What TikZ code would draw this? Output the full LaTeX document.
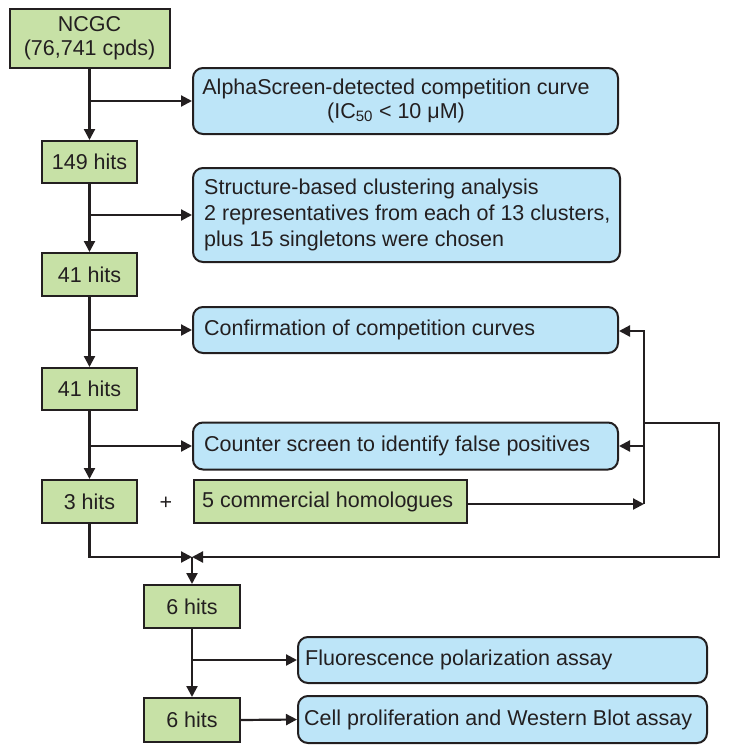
\documentclass[tikz,border=0pt]{standalone}
\usepackage{fontspec}
\setmainfont{Liberation Sans}
\usetikzlibrary{arrows.meta}
\definecolor{gfill}{RGB}{199,225,166}
\definecolor{bfill}{RGB}{189,229,248}
\definecolor{ink}{RGB}{35,31,32}
\begin{document}
\begin{tikzpicture}[x=1pt,y=-1pt,
  every node/.style={font=\fontsize{21.5}{24}\selectfont, text=ink},
  gbox/.style={draw=ink, fill=gfill, line width=2pt, inner sep=0pt, align=center},
  bbox/.style={draw=ink, fill=bfill, line width=2pt, rounded corners=10pt, inner sep=0pt},
  btext/.style={inner sep=0pt, align=left, anchor=west},
  ln/.style={draw=ink, line width=2.2pt},
  arr/.style={ln, -{Triangle[length=11pt,width=11pt]}}]
\useasboundingbox (0,0) rectangle (729,753);

% green boxes
\node[gbox, minimum width=160pt, minimum height=59pt] (ncgc) at (89.5,38.5) {NCGC\\(76,741 cpds)};
\node[gbox, minimum width=95pt, minimum height=42pt] (h149) at (89.5,162) {149 hits};
\node[gbox, minimum width=95pt, minimum height=43pt] (h41a) at (89.5,274.5) {41 hits};
\node[gbox, minimum width=95pt, minimum height=42pt] (h41b) at (89.5,389) {41 hits};
\node[gbox, minimum width=95pt, minimum height=43pt] (h3) at (89.5,501.5) {3 hits};
\node[gbox, minimum width=273pt, minimum height=43pt] (comm) at (330.5,501.5) {};
\node[btext] (commt) at ([xshift=9pt]comm.west) {5 commercial homologues};
\node[gbox, minimum width=96pt, minimum height=43pt] (h6a) at (192,606.5) {6 hits};
\node[gbox, minimum width=96pt, minimum height=44pt] (h6b) at (192,720) {6 hits};
\node (plus) at (166,503) {+};

% blue boxes
\node[bbox, minimum width=425pt, minimum height=66pt] (alpha) at (405.5,101) {};
\node[inner sep=0pt, align=center] (alphat) at (396,101)
  {AlphaScreen-detected competition curve\\(IC\textsubscript{50} < 10 μM)};
\node[bbox, minimum width=427pt, minimum height=94pt] (struct) at (406.5,215) {};
\node[btext, font=\fontsize{21.5}{26}\selectfont] (structt) at ([xshift=12pt]struct.west)
  {Structure-based clustering analysis\\2 representatives from each of 13 clusters,\\plus 15 singletons were chosen};
\node[bbox, minimum width=425pt, minimum height=46pt] (conf) at (405.5,330) {};
\node[btext] (conft) at ([xshift=12pt]conf.west) {Confirmation of competition curves};
\node[bbox, minimum width=425pt, minimum height=47pt] (counter) at (405.5,446) {};
\node[btext] (countert) at ([xshift=12pt]counter.west) {Counter screen to identify false positives};
\node[bbox, minimum width=409pt, minimum height=46pt] (fluo) at (502.5,660) {};
\node[btext] (fluot) at ([xshift=8pt]fluo.west) {Fluorescence polarization assay};
\node[bbox, minimum width=409pt, minimum height=47pt] (cell) at (502.5,719.5) {};
\node[btext] (cellt) at ([xshift=7pt]cell.west) {Cell proliferation and Western Blot assay};

% helper coordinates
\coordinate (R) at (644,504);
\coordinate (Rtop) at (644,331);
\coordinate (Rmid) at (644,423);
\coordinate (Rcnt) at (644,446);
\coordinate (O1) at (719,423);
\coordinate (O2) at (719,557);
\coordinate (M) at (192,557);
\coordinate (L) at (89.5,557);
\coordinate (B1) at (89.5,101);
\coordinate (B2) at (89.5,215);
\coordinate (B3) at (89.5,330);
\coordinate (B4) at (89.5,446);
\coordinate (B5) at (192,660);

% spine
\draw[arr] (ncgc.south) -- (h149.north);
\draw[arr] (B1) -- (alpha.west);
\draw[arr] (h149.south) -- (h41a.north);
\draw[arr] (B2) -- (struct.west);
\draw[arr] (h41a.south) -- (h41b.north);
\draw[arr] (B3) -- (conf.west);
\draw[arr] (h41b.south) -- (h3.north);
\draw[arr] (B4) -- (counter.west);

% feedback loop
\draw[arr] (comm.east |- R) -- (R);
\draw[arr] (R) -- (Rtop) -- (conf.east |- Rtop);
\draw[arr] (Rcnt) -- (counter.east |- Rcnt);
\draw[arr] (Rmid) -- (O1) -- (O2) -- (M);
\draw[arr] (h3.south) -- (L) -- (M);

% lower part
\draw[arr] (M) -- (h6a.north);
\draw[arr] (h6a.south) -- (h6b.north);
\draw[arr] (B5) -- (fluo.west);
\draw[arr] (h6b.east) -- (cell.west);
\end{tikzpicture}
\end{document}
